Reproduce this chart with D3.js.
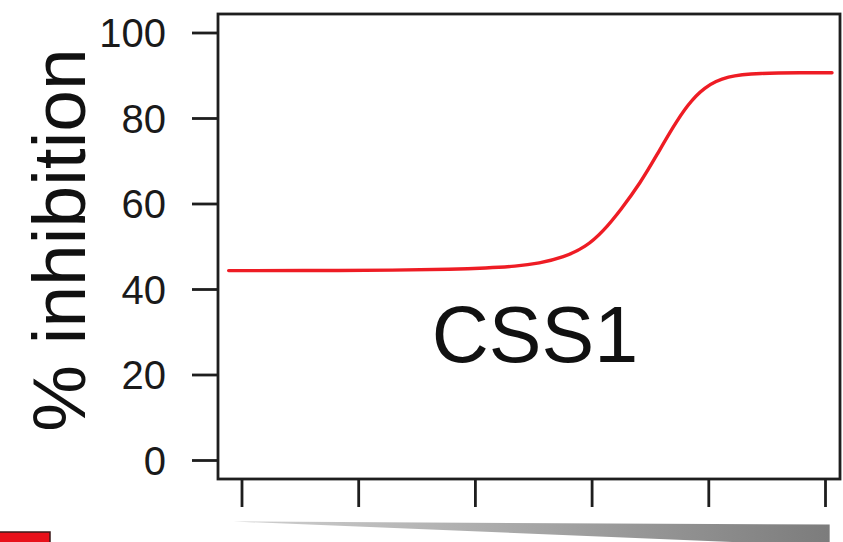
<!DOCTYPE html>
<html>
<head>
<meta charset="utf-8">
<script src="https://cdn.jsdelivr.net/npm/d3@7/dist/d3.min.js"></script>
<style>
  html, body { margin: 0; padding: 0; background: #fff; }
  svg { display: block; }
</style>
</head>
<body>
<svg id="chart" width="843" height="542"></svg>
<script>
// ---- data ----
const yTicks = [0, 20, 40, 60, 80, 100];
const xTicks = [0, 1, 2, 3, 4, 5];           // concentration steps (unlabelled)
const curveX = [-0.11, 0.5, 1.36, 1.8, 2.1, 2.35, 2.55, 2.76, 2.95, 3.1, 3.25, 3.42, 3.56, 3.7, 3.82, 3.96, 4.16, 4.44, 4.8, 5.06];
const curveY = [44.3, 44.3, 44.4, 44.6, 44.9, 45.3, 46.0, 47.4, 49.8, 53.5, 58.5, 64.9, 71.4, 78.0, 83.0, 87.2, 89.9, 90.5, 90.6, 90.6];
const label = "CSS1";
const yTitle = "% inhibition";

const svg = d3.select("#chart");
const font = "'Liberation Sans', Arial, Helvetica, sans-serif";
const ink = "#1e1e1e";

const x = d3.scaleLinear().domain([0, 5]).range([241.5, 825]);
const y = d3.scaleLinear().domain([0, 100]).range([460, 32.5]);

const box = { left: 218, right: 840, top: 14, bottom: 479 };

// gradient for the concentration wedge
const defs = svg.append("defs");
const grad = defs.append("linearGradient").attr("id", "wedge").attr("x1", "0%").attr("x2", "100%");
grad.append("stop").attr("offset", "0%").attr("stop-color", "#d0d0d0");
grad.append("stop").attr("offset", "100%").attr("stop-color", "#7c7c7c");

// plot frame
svg.append("rect")
  .attr("x", box.left).attr("y", box.top)
  .attr("width", box.right - box.left).attr("height", box.bottom - box.top)
  .attr("fill", "none").attr("stroke", ink).attr("stroke-width", 2.8);

// y axis
const yAxis = d3.axisLeft(y).tickValues(yTicks).tickSize(26).tickPadding(26).tickFormat(d3.format("d"));
const gy = svg.append("g").attr("transform", `translate(${box.left},0)`).call(yAxis);
gy.select(".domain").remove();
gy.selectAll(".tick line").attr("stroke", ink).attr("stroke-width", 2.8);
gy.selectAll(".tick text")
  .attr("font-family", font).attr("font-size", 40).attr("fill", "#1a1a1a")
  .attr("dy", "0.35em");

// x axis (ticks only)
const xAxis = d3.axisBottom(x).tickValues(xTicks).tickSize(28).tickFormat("");
const gx = svg.append("g").attr("transform", `translate(0,${box.bottom})`).call(xAxis);
gx.select(".domain").remove();
gx.selectAll(".tick line").attr("stroke", ink).attr("stroke-width", 2.8);

// wedge under x axis
const w0 = x(-0.07), w1 = x(5.04);
svg.append("path")
  .attr("d", `M${w0},521.5 L${w1},524.5 L${w1},546 Z`)
  .attr("fill", "url(#wedge)");

// red legend swatch (cropped at bottom-left)
svg.append("rect")
  .attr("x", -3).attr("y", 532).attr("width", 53).attr("height", 20)
  .attr("fill", "#e8101a").attr("stroke", "#3a1a1a").attr("stroke-width", 1.5);

// fitted curve
const pts = curveX.map((d, i) => [d, curveY[i]]);
const line = d3.line().x(d => x(d[0])).y(d => y(d[1])).curve(d3.curveBasis);
svg.append("path")
  .attr("d", line(pts))
  .attr("fill", "none").attr("stroke", "#ee1c24").attr("stroke-width", 3.4)
  .attr("stroke-linecap", "round");

// in-plot label
svg.append("text")
  .attr("x", 535).attr("y", 362)
  .attr("text-anchor", "middle")
  .attr("font-family", font).attr("font-size", 79).attr("fill", "#111")
  .text(label);

// y title
svg.append("text")
  .attr("transform", `translate(85,240) rotate(-90)`)
  .attr("text-anchor", "middle")
  .attr("font-family", font).attr("font-size", 75).attr("fill", "#111")
  .text(yTitle);
</script>
</body>
</html>
